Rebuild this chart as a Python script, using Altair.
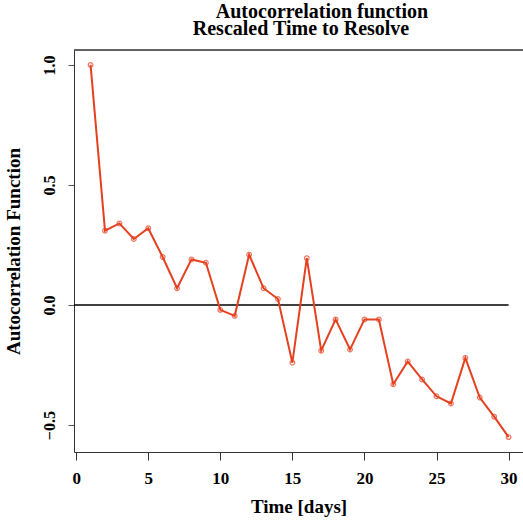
import altair as alt
import pandas as pd

lags = list(range(1, 31))
acf = [1.0, 0.31, 0.34, 0.275, 0.32, 0.20, 0.07, 0.19, 0.176, -0.02,
       -0.045, 0.21, 0.07, 0.025, -0.24, 0.195, -0.19, -0.06, -0.185, -0.06,
       -0.06, -0.33, -0.235, -0.31, -0.38, -0.41, -0.22, -0.385, -0.465, -0.55]

x_ticks = [0, 5, 10, 15, 20, 25, 30]
y_ticks = [-0.5, 0.0, 0.5, 1.0]
title_lines = ["Autocorrelation function", "Rescaled Time to Resolve"]
x_title = "Time [days]"
y_title = "Autocorrelation Function"

FONT = "Liberation Serif"
RED = "#E5401F"

df = pd.DataFrame({"lag": lags, "acf": acf})

xscale = alt.Scale(domain=[-0.15, 31.0], nice=False, zero=False)
yscale = alt.Scale(domain=[-0.612, 1.062], nice=False, zero=False)

x_axis = alt.Axis(values=x_ticks, format="d", title=x_title, grid=False,
                  domainColor="#333333", tickColor="#333333", tickSize=8,
                  labelFont=FONT, labelFontSize=17, labelFontWeight="bold",
                  labelColor="black", labelPadding=10,
                  titleFont=FONT, titleFontSize=19, titleFontWeight="bold",
                  titleColor="black", titlePadding=11)
y_axis = alt.Axis(values=y_ticks, format=".1f", title=y_title, grid=False,
                  domainColor="#333333", tickColor="#555555", tickSize=6,
                  labelAngle=-90, labelAlign="center", labelBaseline="bottom",
                  labelFont=FONT, labelFontSize=16, labelFontWeight="bold",
                  labelColor="black", labelPadding=11,
                  titleFont=FONT, titleFontSize=19, titleFontWeight="bold",
                  titleColor="black", titlePadding=18)

base = alt.Chart(df)

zero = alt.Chart(pd.DataFrame({"x1": [-0.15], "x2": [30], "y": [0.0]})).mark_rule(
    color="black", strokeWidth=1.5).encode(
    x=alt.X("x1:Q", scale=xscale, axis=x_axis),
    x2=alt.X2("x2"),
    y=alt.Y("y:Q", scale=yscale, axis=y_axis),
)

line = base.mark_line(color=RED, strokeWidth=2).encode(
    x=alt.X("lag:Q", scale=xscale, axis=x_axis),
    y=alt.Y("acf:Q", scale=yscale, axis=y_axis),
)
pts = base.mark_point(shape="circle", filled=False, color=RED, size=22, strokeWidth=1.2).encode(
    x=alt.X("lag:Q", scale=xscale, axis=x_axis),
    y=alt.Y("acf:Q", scale=yscale, axis=y_axis),
)

top_border = alt.Chart(pd.DataFrame({"d": [0]})).mark_rule(
    color="#333333", strokeWidth=1.5).encode(
    x=alt.value(0), x2=alt.value(449), y=alt.value(0)
)

title1 = alt.Chart(pd.DataFrame({"d": [0]})).mark_text(
    text=title_lines[0], font=FONT, fontSize=20, fontWeight="bold", color="black",
    align="center", baseline="alphabetic"
).encode(x=alt.value(248), y=alt.value(-32))
title2 = alt.Chart(pd.DataFrame({"d": [0]})).mark_text(
    text=title_lines[1], font=FONT, fontSize=20, fontWeight="bold", color="black",
    align="center", baseline="alphabetic"
).encode(x=alt.value(227), y=alt.value(-15))

chart = alt.layer(zero, line, pts, top_border, title1, title2).properties(
    width=449, height=402,
    autosize=alt.AutoSizeParams(type="none"),
    padding={"left": 74, "top": 50, "right": 0, "bottom": 73},
).configure_view(stroke=None).configure(background="white")

chart.save("out.html", embed_options={"renderer": "svg", "actions": False})
